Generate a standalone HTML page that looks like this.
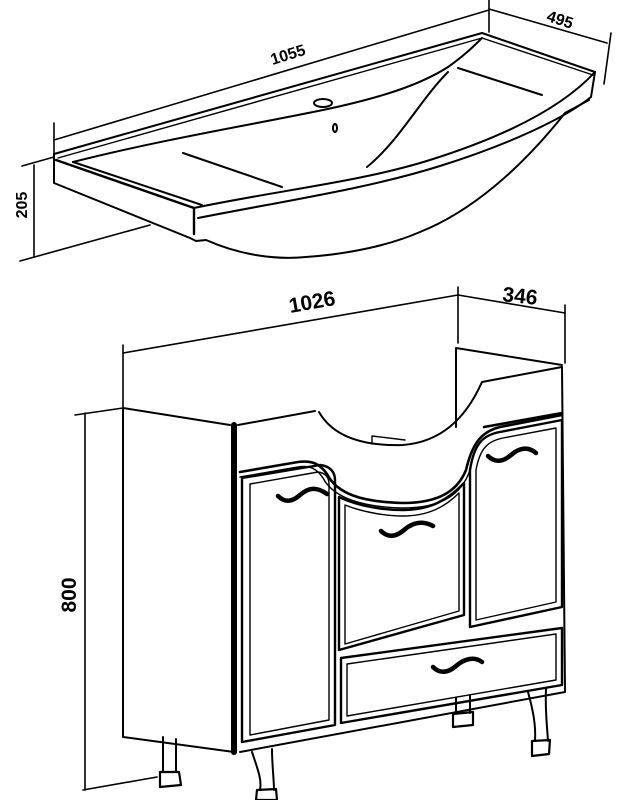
<!DOCTYPE html>
<html><head><meta charset="utf-8"><style>
html,body{margin:0;padding:0;background:#fff;}
svg{display:block}
text{font-family:"Liberation Sans",sans-serif;font-weight:bold;fill:#000}
</style></head><body>
<svg width="628" height="800" viewBox="0 0 628 800" xmlns="http://www.w3.org/2000/svg">
<g fill="none" stroke="#000" stroke-width="2" stroke-linejoin="round" stroke-linecap="round">
<!-- ===== SINK ===== -->
<line x1="54" y1="140" x2="489" y2="10" stroke-width="1.6"/>
<line x1="54" y1="123" x2="54" y2="160" stroke-width="1.6"/>
<line x1="489" y1="0" x2="489" y2="32" stroke-width="1.6"/>
<line x1="489" y1="9" x2="607" y2="43" stroke-width="1.6"/>
<line x1="611" y1="33" x2="604" y2="84" stroke-width="1.6"/>
<line x1="34" y1="165" x2="34" y2="257" stroke-width="1.6"/>
<line x1="22" y1="166" x2="54" y2="157" stroke-width="1.6"/>
<line x1="20" y1="261" x2="150" y2="225" stroke-width="1.6"/>
<path d="M54,154 L482,33 L595,72"/>
<path d="M58,158 L482,38 L593,75" stroke-width="1.4"/>
<path d="M54,154 L54,183 L190,238"/>
<path d="M56,160 L194,208 L194,234" stroke-width="2.4"/>
<path d="M194,208 C280,190 360,182 430,160 C500,138 560,110 595,72"/>
<path d="M198,218 C290,200 370,188 440,166 C510,144 565,118 591,97"/>
<path d="M591,97 L595,72"/>
<path d="M190,238 L196,241 L206,240 C240,255 275,260 306,257 C350,254 390,245 420,232 C470,212 520,170 565,113 L589,100"/>
<path d="M73,162 L202,205"/>
<path d="M73,162 C160,140 250,125 323,110 C380,98 420,85 448,67 C465,55 475,45 482,38"/>
<path d="M448,72 C420,100 400,140 367,167"/>
<path d="M183,153 L282,187"/>
<path d="M458,68 L542,95"/>
<ellipse cx="323" cy="103" rx="9" ry="4"/>
<ellipse cx="335" cy="128" rx="2" ry="4"/>
<!-- ===== CABINET ===== -->
<line x1="123" y1="353" x2="458" y2="295" stroke-width="1.6"/>
<line x1="123" y1="345" x2="123" y2="410" stroke-width="1.6"/>
<line x1="458" y1="287" x2="458" y2="343" stroke-width="1.6"/>
<line x1="458" y1="295" x2="565" y2="313" stroke-width="1.6"/>
<line x1="565" y1="305" x2="565" y2="363" stroke-width="1.6"/>
<line x1="85" y1="413" x2="85" y2="790" stroke-width="1.6"/>
<line x1="75" y1="415" x2="123" y2="408" stroke-width="1.6"/>
<line x1="83" y1="790" x2="157" y2="777" stroke-width="1.6"/>
<path d="M123,408 L230,425 M123,408 L123,737 L234,752"/>
<path d="M234,425 L234,752" stroke-width="6"/>
<path d="M238,425 L315,411"/>
<path d="M319,412 C335,440 370,446 403,445 C440,442 465,420 482,382 L562,367"/>
<path d="M456,348 L562,365 M456,348 L456,427"/>
<path d="M372,436 L372,444 M372,436 L405,440" stroke-width="1.4"/>
<path d="M562,367 L565,692 L240,752"/>
<path d="M484,427 L562,413" stroke-width="2.6"/>
<!-- trim curve -->
<path d="M240,472 L298,462 C312,460 320,464 327,474 C337,494 362,502 403,503 C440,503 458,490 466,470 C472,445 480,432 500,427 L562,415" stroke-width="2.6"/>
<path d="M240,477 L298,467 C310,465 317,469 323,478 C333,497 360,507 403,508 C442,508 462,494 470,470" stroke-width="1.4"/>
<!-- left door -->
<path d="M242,478 L320,465 C330,466 335,472 335,480 L335,725 L242,742 Z" stroke-width="2.4"/>
<path d="M250,484 L318,472 C325,473 329,477 329,484 L329,720 L250,735 Z" stroke-width="1.4"/>
<!-- middle door -->
<path d="M339,497 C360,507 385,510 403,510 C430,510 448,500 464,483 L464,615 L339,650 Z" stroke-width="2.4"/>
<path d="M345,505 C365,513 388,516 403,516 C428,516 445,507 459,493 L459,611 L345,644 Z" stroke-width="1.4"/>
<!-- right door -->
<path d="M470,470 C474,445 482,435 500,432 L562,420 L562,607 L470,627 Z" stroke-width="2.4"/>
<path d="M476,470 C480,448 488,441 503,438 L556,428 L556,602 L476,620 Z" stroke-width="1.4"/>
<!-- drawer -->
<path d="M341,658 L562,628 L562,685 L341,723 Z" stroke-width="2.4"/>
<path d="M347,664 L556,634 L556,680 L347,716 Z" stroke-width="1.4"/>
<g stroke-width="4.5">
<path d="M278,496 C285,503 292,502 300,495 C308,488 316,486 327,494"/>
<path d="M381,531 C388,538 396,537 404,530 C412,523 422,520 433,526"/>
<path d="M488,456 C495,463 503,462 511,455 C519,448 528,446 536,453"/>
<path d="M433,667 C440,674 448,673 456,666 C464,659 474,656 482,662"/>
</g>
<path d="M163,737 L163,772 M176,739 L176,772"/>
<path d="M160,772 L179,772 L181,785 L160,787 Z" stroke-width="2.2"/>
<path d="M252,752 C258,770 262,780 260,790 M272,749 C272,765 274,780 274,790"/>
<path d="M257,790 L276,789 L277,800 L256,800 Z" stroke-width="2.2"/>
<path d="M456,698 L456,713 M470,696 L470,713"/>
<path d="M453,714 L473,712 L473,725 L453,727 Z" stroke-width="2.2"/>
<path d="M528,692 C533,710 536,725 535,741 M546,689 C545,710 547,725 548,741"/>
<path d="M532,741 L550,740 L549,754 L532,756 Z" stroke-width="2.2"/>
</g>
<text x="288" y="60" font-size="16" text-anchor="middle" transform="rotate(-17 288 55)">1055</text>
<text x="560" y="25" font-size="16" text-anchor="middle" transform="rotate(18 560 20)">495</text>
<text x="22" y="210" font-size="16" text-anchor="middle" transform="rotate(-90 22 205)">205</text>
<text x="312" y="309" font-size="21" text-anchor="middle" transform="rotate(-10 312 302)">1026</text>
<text x="520" y="303" font-size="21" text-anchor="middle" transform="rotate(6 520 296)">346</text>
<text x="69" y="602" font-size="21" text-anchor="middle" transform="rotate(-90 69 595)">800</text>
</svg>
</body></html>
